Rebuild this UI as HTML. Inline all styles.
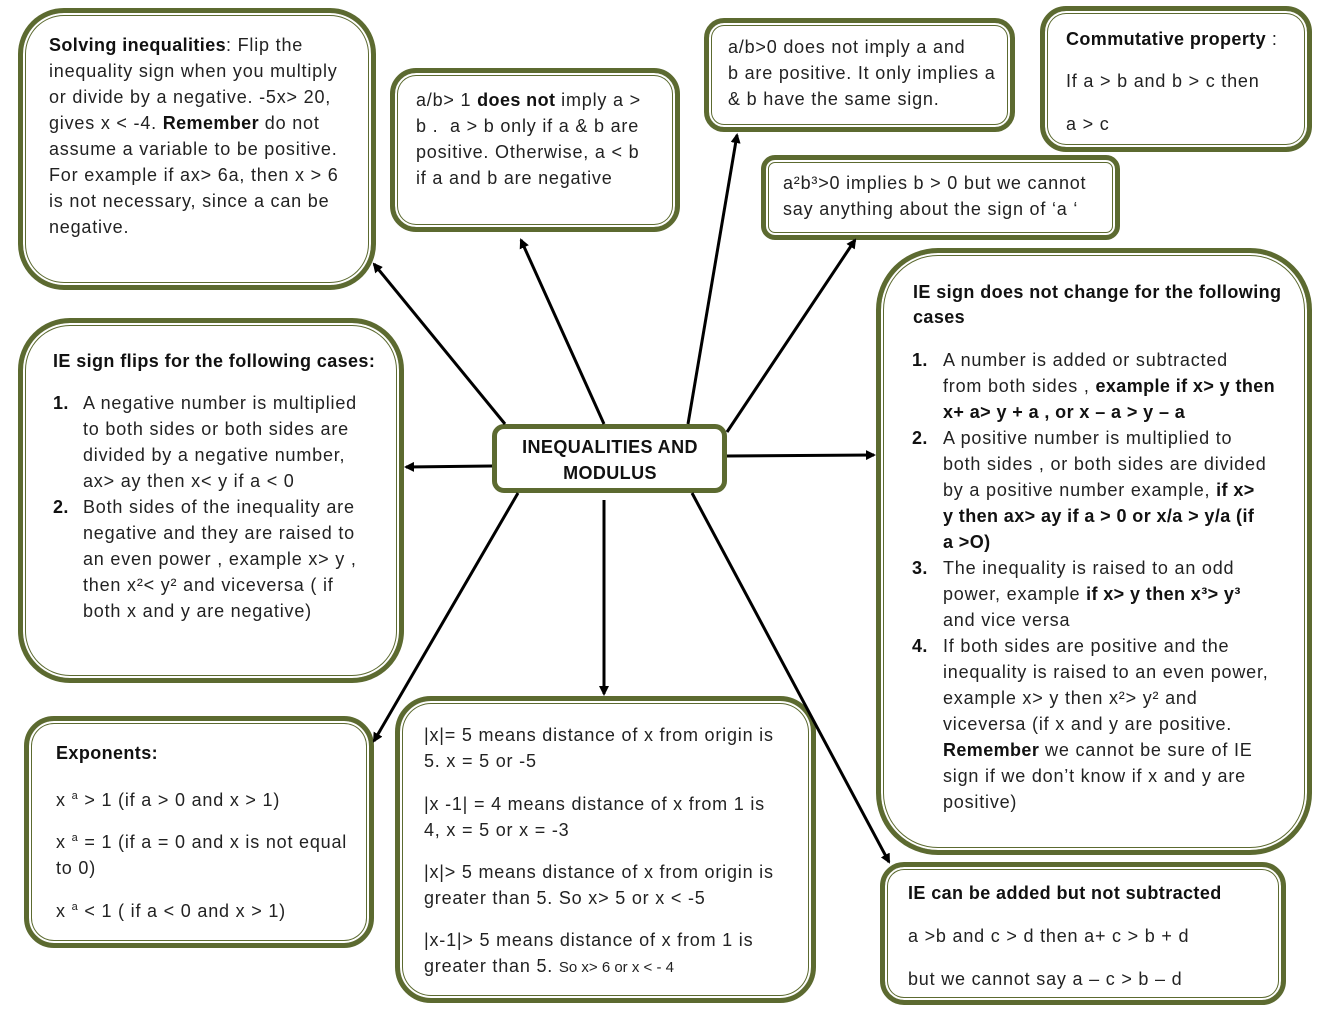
<!DOCTYPE html>
<html><head><meta charset="utf-8"><style>
body{margin:0;width:1322px;height:1019px;background:#fff;position:relative;overflow:hidden;font-family:"Liberation Sans",sans-serif;color:#222}
.b{position:absolute;box-sizing:border-box;border:5px solid #5c6a30;box-shadow:inset 0 0 0 2px #fff,inset 0 0 0 3px #5c6a30;background:#fff}
.t{position:absolute;font-size:18px;letter-spacing:0.8px;line-height:26px;white-space:nowrap}
.t b{font-weight:bold;color:#111;letter-spacing:0.4px}
svg{position:absolute;left:0;top:0}
</style></head><body>
<div class="b" style="left:18px;top:8px;width:358px;height:282px;border-radius:46px"></div>
<div class="b" style="left:390px;top:68px;width:290px;height:164px;border-radius:26px"></div>
<div class="b" style="left:704px;top:18px;width:311px;height:114px;border-radius:20px"></div>
<div class="b" style="left:1040px;top:6px;width:272px;height:146px;border-radius:26px"></div>
<div class="b" style="left:761px;top:155px;width:359px;height:85px;border-radius:14px"></div>
<div class="b" style="left:876px;top:248px;width:436px;height:607px;border-radius:62px"></div>
<div class="b" style="left:18px;top:318px;width:386px;height:365px;border-radius:52px"></div>
<div class="b" style="left:492px;top:424px;width:235px;height:69px;border-radius:12px;box-shadow:none;border-width:5px"></div>
<div class="b" style="left:24px;top:716px;width:350px;height:232px;border-radius:30px"></div>
<div class="b" style="left:395px;top:696px;width:421px;height:307px;border-radius:36px"></div>
<div class="b" style="left:880px;top:862px;width:406px;height:143px;border-radius:24px"></div>

<svg width="1322" height="1019"><defs><marker id="a" markerWidth="10" markerHeight="10" refX="8" refY="5" orient="auto" markerUnits="userSpaceOnUse"><path d="M0,0 L10,5 L0,10 Z" fill="#000"/></marker></defs>
<g stroke="#000" stroke-width="3" marker-end="url(#a)">
<line x1="505" y1="424" x2="374" y2="264"/>
<line x1="604" y1="424" x2="521" y2="240"/>
<line x1="688" y1="424" x2="737" y2="135"/>
<line x1="727" y1="432" x2="855" y2="240"/>
<line x1="727" y1="456" x2="874" y2="455"/>
<line x1="492" y1="466" x2="406" y2="467"/>
<line x1="604" y1="500" x2="604" y2="694"/>
<line x1="518" y1="493" x2="374" y2="741"/>
<line x1="692" y1="493" x2="889" y2="862"/>
</g></svg>

<div class="t" style="left:49px;top:32px"><b>Solving inequalities</b>: Flip the<br>inequality sign when you multiply<br>or divide by a negative. -5x&gt; 20,<br>gives x &lt; -4. <b>Remember</b> do not<br>assume a variable to be positive.<br>For example if ax&gt; 6a, then x &gt; 6<br>is not necessary, since a can be<br>negative.</div>
<div class="t" style="left:416px;top:87px">a/b&gt; 1 <b>does not</b> imply a &gt;<br>b .&nbsp; a &gt; b only if a &amp; b are<br>positive. Otherwise, a &lt; b<br>if a and b are negative</div>
<div class="t" style="left:728px;top:34px">a/b&gt;0 does not imply a and<br>b are positive. It only implies a<br>&amp; b have the same sign.</div>
<div class="t" style="left:1066px;top:26px"><b>Commutative property</b> :</div>
<div class="t" style="left:1066px;top:68px">If a &gt; b and b &gt; c then</div>
<div class="t" style="left:1066px;top:111px">a &gt; c</div>
<div class="t" style="left:783px;top:170px">a²b³&gt;0 implies b &gt; 0 but we cannot<br>say anything about the sign of ‘a ‘</div>
<div class="t" style="left:913px;top:280px;line-height:25px"><b>IE sign does not change for the following<br>cases</b></div>
<div class="t" style="left:912px;top:347px"><b>1.</b><br><br><br><b>2.</b><br><br><br><br><br><b>3.</b><br><br><br><b>4.</b></div>
<div class="t" style="left:943px;top:347px">A number is added or subtracted<br>from both sides , <b>example if x&gt; y then<br>x+ a&gt; y + a , or x – a &gt; y – a</b><br>A positive number is multiplied to<br>both sides , or both sides are divided<br>by a positive number example, <b>if x&gt;<br>y then ax&gt; ay if a &gt; 0 or x/a &gt; y/a (if<br>a &gt;O)</b><br>The inequality is raised to an odd<br>power, example <b>if x&gt; y then x³&gt; y³</b><br>and vice versa<br>If both sides are positive and the<br>inequality is raised to an even power,<br>example x&gt; y then x²&gt; y² and<br>viceversa (if x and y are positive.<br><b>Remember</b> we cannot be sure of IE<br>sign if we don’t know if x and y are<br>positive)</div>
<div class="t" style="left:53px;top:348px"><b>IE sign flips for the following cases:</b></div>
<div class="t" style="left:53px;top:390px"><b>1.</b><br><br><br><br><b>2.</b></div>
<div class="t" style="left:83px;top:390px">A negative number is multiplied<br>to both sides or both sides are<br>divided by a negative number,<br>ax&gt; ay then x&lt; y if a &lt; 0<br>Both sides of the inequality are<br>negative and they are raised to<br>an even power , example x&gt; y ,<br>then x²&lt; y² and viceversa ( if<br>both x and y are negative)</div>
<div class="t" style="left:497px;top:434px;width:226px;text-align:center"><b>INEQUALITIES AND<br>MODULUS</b></div>
<div class="t" style="left:56px;top:740px"><b>Exponents:</b></div>
<div class="t" style="left:56px;top:783px">x <sup style="font-size:11px">a</sup> &gt; 1 (if a &gt; 0 and x &gt; 1)</div>
<div class="t" style="left:56px;top:825px">x <sup style="font-size:11px">a</sup> = 1 (if a = 0 and x is not equal<br>to 0)</div>
<div class="t" style="left:56px;top:894px">x <sup style="font-size:11px">a</sup> &lt; 1 ( if a &lt; 0 and x &gt; 1)</div>
<div class="t" style="left:424px;top:722px">|x|= 5 means distance of x from origin is<br>5. x = 5 or -5</div>
<div class="t" style="left:424px;top:791px">|x -1| = 4 means distance of x from 1 is<br>4, x = 5 or x = -3</div>
<div class="t" style="left:424px;top:859px">|x|&gt; 5 means distance of x from origin is<br>greater than 5. So x&gt; 5 or x &lt; -5</div>
<div class="t" style="left:424px;top:927px">|x-1|&gt; 5 means distance of x from 1 is<br>greater than 5. <span style="font-size:15px;letter-spacing:0">So x&gt; 6 or x &lt; - 4</span></div>
<div class="t" style="left:908px;top:880px"><b>IE can be added but not subtracted</b></div>
<div class="t" style="left:908px;top:923px">a &gt;b and c &gt; d then a+ c &gt; b + d</div>
<div class="t" style="left:908px;top:966px">but we cannot say a – c &gt; b – d</div>
</body></html>
